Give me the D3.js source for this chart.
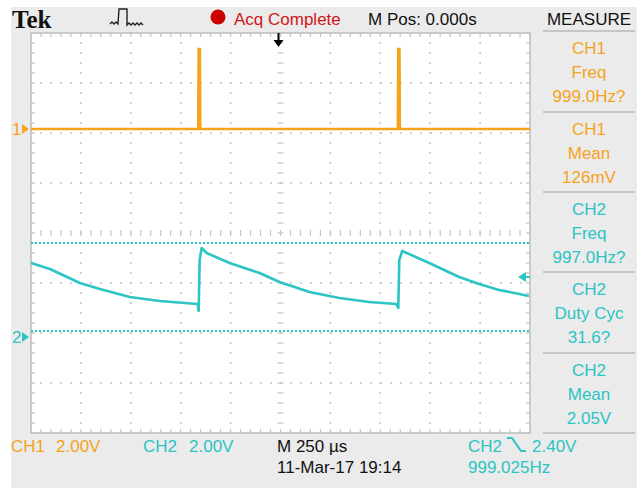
<!DOCTYPE html>
<html>
<head>
<meta charset="utf-8">
<script src="https://cdn.jsdelivr.net/npm/d3@7"></script>
<style>
  body { margin: 0; background: #fff; }
  text { font-family: "Liberation Sans", Arial, sans-serif; }
</style>
</head>
<body>
<div id="scope"></div>
<script>
var width = 637,
    height = 489;

// horizontal: 10 div x 250 us, vertical: 8 div
var timeDomain = [-1250, 1250];
var voltsPerDiv = [2, 2];
var groundDiv = [2.08, -2.08];   // channel position markers, in div

// CH1 samples (us, V)
var ch1Time  = [-1250, -412, -410, -404, -402, 588, 590, 596, 598, 1250];
var ch1Volts = [0, 0, 3.2, 3.2, 0, 0, 3.2, 3.2, 0, 0];

// CH2 samples (us, V)
var ch2Time  = [-1250, -1155, -1005, -905, -755, -605, -415, -410, -405, -395, -370,
                -255, -105, -5, 145, 295, 445, 580, 590, 595, 610, 745, 895, 995, 1095, 1220, 1245];
var ch2Volts = [2.96, 2.72, 2.16, 1.92, 1.6, 1.44, 1.32, 1.04, 3.08, 3.56, 3.36,
                2.96, 2.56, 2.2, 1.8, 1.56, 1.4, 1.32, 1.16, 3.08, 3.44, 2.96, 2.4, 2.12, 1.88, 1.68, 1.64];

var ch2Cursors = [3.76, 0.24];
var triggerLevel = 2.40;

var measureChannels = ["CH1", "CH1", "CH2", "CH2", "CH2"];
var measureNames    = ["Freq", "Mean", "Freq", "Duty Cyc", "Mean"];
var measureValues   = ["999.0Hz?", "126mV", "997.0Hz?", "31.6?", "2.05V"];

var orange = "#f5a31c",
    cyan = "#2cc4c4",
    bg = "#ebebeb";

var svg = d3.select("#scope")
  .append("svg")
    .attr("width", width)
    .attr("height", height);

svg.append("rect").attr("width", width).attr("height", height).attr("fill", "#fff");
svg.append("rect")
  .attr("x", 11).attr("y", 7).attr("width", width - 11).attr("height", 481)
  .attr("fill", bg);

var x = d3.scaleLinear().domain(timeDomain).range([31, 530]);
var yDiv = d3.scaleLinear().domain([-4, 4]).range([433, 33]);
function chY(ch) {
  return function(v) { return yDiv(v / voltsPerDiv[ch] + groundDiv[ch]); };
}

var plot = svg.append("g");
plot.append("rect")
  .attr("x", x(-1250)).attr("y", yDiv(4))
  .attr("width", x(1250) - x(-1250)).attr("height", yDiv(-4) - yDiv(4))
  .attr("fill", "#fff")
  .attr("stroke", "#bdbdbd")
  .attr("stroke-width", 1.5);

// graticule
var divX = d3.range(-4, 5).map(function(d) { return d * 250; });
var divY = d3.range(-3, 4);
var subX = d3.range(-1250, 1251, 50);
var subY = d3.range(-4, 4.01, 0.2);

plot.selectAll(".gx").data(divX.filter(function(d) { return d !== 0; })).enter()
  .append("line")
    .attr("x1", function(d) { return x(d); }).attr("x2", function(d) { return x(d); })
    .attr("y1", yDiv(4) - 1).attr("y2", yDiv(-4))
    .attr("stroke", "#c4c4c4").attr("stroke-width", 1.5)
    .attr("stroke-dasharray", "2 8");

plot.selectAll(".gy").data(divY.filter(function(d) { return d !== 0; })).enter()
  .append("line")
    .attr("y1", function(d) { return yDiv(d); }).attr("y2", function(d) { return yDiv(d); })
    .attr("x1", x(-1250) - 1).attr("x2", x(1250))
    .attr("stroke", "#c4c4c4").attr("stroke-width", 1.5)
    .attr("stroke-dasharray", "2 8");

// ticks on centre lines and frame
var tickData = [];
subX.forEach(function(t) {
  tickData.push({x1: x(t), x2: x(t), y1: yDiv(0) - 3, y2: yDiv(0) + 3});
  tickData.push({x1: x(t), x2: x(t), y1: yDiv(4), y2: yDiv(4) + 4});
  tickData.push({x1: x(t), x2: x(t), y1: yDiv(-4) - 4, y2: yDiv(-4)});
});
subY.forEach(function(v) {
  tickData.push({x1: x(0) - 3, x2: x(0) + 3, y1: yDiv(v), y2: yDiv(v)});
  tickData.push({x1: x(-1250), x2: x(-1250) + 4, y1: yDiv(v), y2: yDiv(v)});
  tickData.push({x1: x(1250) - 4, x2: x(1250), y1: yDiv(v), y2: yDiv(v)});
});
plot.selectAll(".tk").data(tickData).enter()
  .append("line")
    .attr("x1", function(d) { return d.x1; }).attr("x2", function(d) { return d.x2; })
    .attr("y1", function(d) { return d.y1; }).attr("y2", function(d) { return d.y2; })
    .attr("stroke", "#c4c4c4").attr("stroke-width", 1.2);

// CH2 cursor lines
plot.selectAll(".cur").data(ch2Cursors).enter()
  .append("line")
    .attr("x1", x(-1250)).attr("x2", x(1250))
    .attr("y1", function(d) { return chY(1)(d); }).attr("y2", function(d) { return chY(1)(d); })
    .attr("stroke", cyan).attr("stroke-width", 1.8)
    .attr("stroke-dasharray", "2 2");

// traces
var line1 = d3.line()
  .x(function(d) { return x(d[0]); })
  .y(function(d) { return chY(0)(d[1]); });
var line2 = d3.line()
  .x(function(d) { return x(d[0]); })
  .y(function(d) { return chY(1)(d[1]); });

plot.append("path")
  .datum(d3.zip(ch1Time, ch1Volts))
  .attr("d", line1)
  .attr("fill", "none").attr("stroke", orange).attr("stroke-width", 2.6);

plot.append("path")
  .datum(d3.zip(ch2Time, ch2Volts))
  .attr("d", line2)
  .attr("fill", "none").attr("stroke", cyan).attr("stroke-width", 2.6)
  .attr("stroke-linejoin", "round");

// trigger level marker
var ty = chY(1)(triggerLevel);
plot.append("path")
  .attr("d", "M518," + ty + "L526," + (ty - 5) + "L526," + (ty + 5) + "Z")
  .attr("fill", cyan);
plot.append("line")
  .attr("x1", 524).attr("x2", 530).attr("y1", ty).attr("y2", ty)
  .attr("stroke", cyan).attr("stroke-width", 2);

// trigger position marker
var tx = x(-10);
svg.append("line")
  .attr("x1", tx).attr("x2", tx).attr("y1", 33).attr("y2", 42)
  .attr("stroke", "#000").attr("stroke-width", 2);
svg.append("path")
  .attr("d", "M" + (tx - 5) + ",40L" + (tx + 5) + ",40L" + tx + ",47Z")
  .attr("fill", "#000");

// channel markers on the left
[0, 1].forEach(function(ch) {
  var yy = yDiv(groundDiv[ch]);
  var col = ch === 0 ? orange : cyan;
  svg.append("text")
    .attr("x", 12).attr("y", yy + 6)
    .attr("fill", col).style("font-size", "17px")
    .text(String(ch + 1));
  svg.append("path")
    .attr("d", "M22," + (yy - 5) + "L29," + yy + "L22," + (yy + 5) + "Z")
    .attr("fill", col);
});

// header
svg.append("text")
  .attr("x", 12).attr("y", 28)
  .style("font-family", "'Liberation Serif', serif")
  .style("font-weight", "bold").style("font-size", "25px")
  .attr("fill", "#111")
  .text("Tek");

svg.append("path")
  .attr("d", "M110,24l2,-2l2,2l2,-2l2,2L119,9L127,9L127,25l2,-2l2,2l2,-2l2,2l2,-2l2,2l2,-2l2,2")
  .attr("fill", "none").attr("stroke", "#222").attr("stroke-width", 1.4);

svg.append("circle").attr("cx", 218).attr("cy", 17).attr("r", 7.5).attr("fill", "#cc0000");
svg.append("text").attr("x", 234).attr("y", 25)
  .attr("fill", "#d0161b").style("font-size", "17px")
  .text("Acq Complete");
svg.append("text").attr("x", 368).attr("y", 25)
  .attr("fill", "#111").style("font-size", "17px")
  .text("M Pos: 0.000s");
svg.append("text").attr("x", 589).attr("y", 25)
  .attr("text-anchor", "middle")
  .attr("fill", "#111").style("font-size", "17px")
  .text("MEASURE");

// measurement panel
var seps = [31, 112, 192, 272, 353, 433];
svg.selectAll(".sep").data(seps).enter()
  .append("line")
    .attr("x1", 543).attr("x2", 635)
    .attr("y1", function(d) { return d; }).attr("y2", function(d) { return d; })
    .attr("stroke", "#c6c6c6").attr("stroke-width", 2);

var boxes = svg.selectAll(".box")
  .data(d3.range(measureNames.length))
  .enter().append("g")
    .attr("transform", function(i) { return "translate(589," + seps[i] + ")"; });

boxes.each(function(i) {
  var g = d3.select(this);
  var col = measureChannels[i] === "CH1" ? orange : cyan;
  [measureChannels[i], measureNames[i], measureValues[i]].forEach(function(s, k) {
    g.append("text")
      .attr("x", 0).attr("y", 23 + k * 24)
      .attr("text-anchor", "middle")
      .attr("fill", col).style("font-size", "17px")
      .text(s);
  });
});

// footer
var foot = [
  {x: 11, y: 452, c: orange, t: "CH1"},
  {x: 56, y: 452, c: orange, t: "2.00V"},
  {x: 143, y: 452, c: cyan, t: "CH2"},
  {x: 189, y: 452, c: cyan, t: "2.00V"},
  {x: 277, y: 452, c: "#111", t: "M 250 \u00b5s"},
  {x: 277, y: 473, c: "#111", t: "11-Mar-17 19:14"},
  {x: 468, y: 452, c: cyan, t: "CH2"},
  {x: 532, y: 452, c: cyan, t: "2.40V"},
  {x: 468, y: 473, c: cyan, t: "999.025Hz"}
];
svg.selectAll(".ft").data(foot).enter()
  .append("text")
    .attr("x", function(d) { return d.x; })
    .attr("y", function(d) { return d.y; })
    .attr("fill", function(d) { return d.c; })
    .style("font-size", "17px")
    .text(function(d) { return d.t; });

// falling slope symbol
svg.append("path")
  .attr("d", "M507,438L512,438L521,451L526,451")
  .attr("fill", "none").attr("stroke", cyan).attr("stroke-width", 2);
</script>
</body>
</html>
